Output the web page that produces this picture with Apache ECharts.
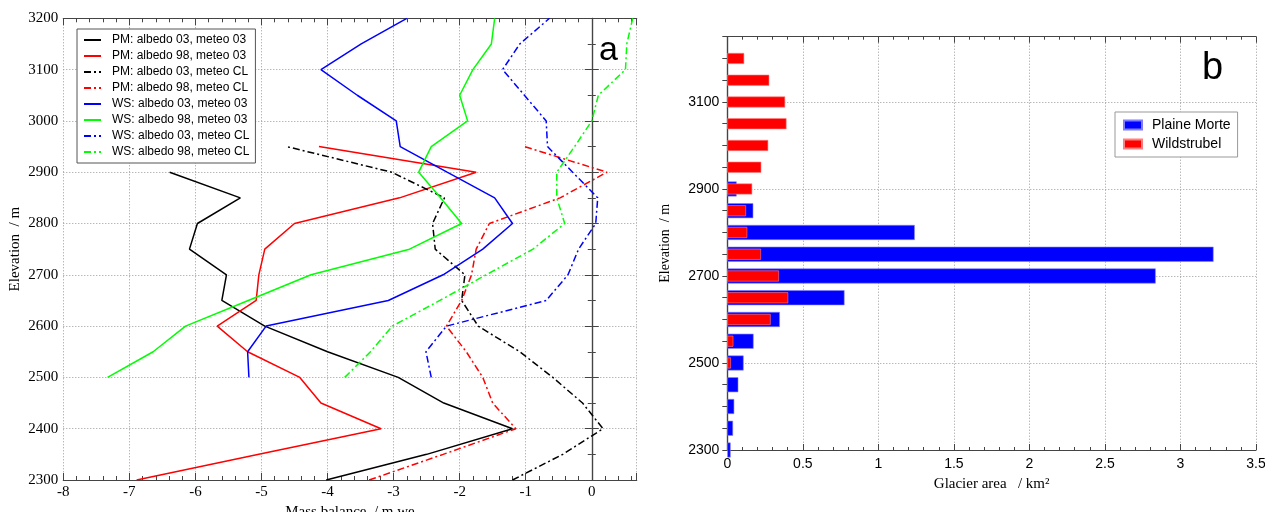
<!DOCTYPE html>
<html><head><meta charset="utf-8">
<script src="https://cdn.jsdelivr.net/npm/echarts@6/dist/echarts.min.js"></script>
<style>html,body{margin:0;padding:0;background:#fff}#c{width:1265px;height:512px}</style>
</head><body><div id="c"></div><script>
// ---- Panel a: mass balance profiles (m w.e.) ----
const elevPM = [2300,2350,2400,2450,2500,2550,2600,2650,2700,2750,2800,2850,2900,2950];
const elevWS = [2500,2550,2600,2650,2700,2750,2800,2850,2900,2950,3000,3050,3100,3150,3200];
const pmA03M03 = [-4.02,-2.5,-1.2,-2.24,-2.93,-4.0,-4.95,-5.6,-5.53,-6.09,-5.97,-5.32,-6.39];
const pmA98M03 = [-6.89,-5.04,-3.19,-4.1,-4.42,-5.21,-5.67,-5.08,-5.04,-4.95,-4.5,-2.91,-1.75,-4.13];
const pmA03MCL = [-1.2,-0.44,0.17,-0.14,-0.59,-1.09,-1.72,-1.97,-1.92,-2.37,-2.41,-2.23,-3.03,-4.62];
const pmA98MCL = [-3.37,-2.25,-1.15,-1.5,-1.65,-1.9,-2.2,-1.97,-1.82,-1.75,-1.55,-0.48,0.23,-1.02];
const wsA03M03 = [-5.19,-5.21,-4.93,-3.08,-2.25,-1.65,-1.2,-1.47,-2.19,-2.9,-2.96,-3.55,-4.1,-3.49,-2.8];
const wsA98M03 = [-7.33,-6.64,-6.15,-5.2,-4.25,-2.76,-1.97,-2.29,-2.62,-2.43,-1.88,-2.0,-1.8,-1.52,-1.47];
const wsA03MCL = [-2.43,-2.51,-2.2,-0.69,-0.36,-0.2,0.06,0.09,-0.29,-0.67,-0.69,-1.02,-1.35,-1.09,-0.64];
const wsA98MCL = [-3.74,-3.35,-3.02,-2.3,-1.6,-0.89,-0.41,-0.53,-0.53,-0.26,0.0,0.1,0.51,0.53,0.62];
const profileNames = ['PM: albedo 03, meteo 03','PM: albedo 98, meteo 03','PM: albedo 03, meteo CL','PM: albedo 98, meteo CL',
  'WS: albedo 03, meteo 03','WS: albedo 98, meteo 03','WS: albedo 03, meteo CL','WS: albedo 98, meteo CL'];

// ---- Panel b: glacier area per elevation band (km2) ----
const elevBands = [2300,2350,2400,2450,2500,2550,2600,2650,2700,2750,2800,2850,2900,2950,3000,3050,3100,3150,3200,3250];
const elevPlaineMorte = [2300,2350,2400,2450,2500,2550,2600,2650,2700,2750,2800,2850,2900];
const areaPlaineMorte = [0.022,0.038,0.046,0.073,0.108,0.174,0.348,0.776,2.836,3.219,1.241,0.172,0.062];
const elevWildstrubel = [2500,2550,2600,2650,2700,2750,2800,2850,2900,2950,3000,3050,3100,3150,3200];
const areaWildstrubel = [0.024,0.04,0.287,0.403,0.342,0.223,0.132,0.124,0.165,0.225,0.271,0.392,0.383,0.278,0.112];

const dashDot = [7,3,2,3];
function pairs(vals, elev){ return vals.map((v,i)=>[v, elev[i]]); }
function onBands(vals, elev){ return elevBands.map(b=>{ const i = elev.indexOf(b); return i<0 ? '-' : vals[i]; }); }
const profiles = [
  {d: pairs(pmA03M03, elevPM), c:'#000000', t:'solid'},
  {d: pairs(pmA98M03, elevPM), c:'#ff0000', t:'solid'},
  {d: pairs(pmA03MCL, elevPM), c:'#000000', t:dashDot},
  {d: pairs(pmA98MCL, elevPM), c:'#ff0000', t:dashDot},
  {d: pairs(wsA03M03, elevWS), c:'#0000ff', t:'solid'},
  {d: pairs(wsA98M03, elevWS), c:'#00ff00', t:'solid'},
  {d: pairs(wsA03MCL, elevWS), c:'#0000ff', t:dashDot},
  {d: pairs(wsA98MCL, elevWS), c:'#00ff00', t:dashDot}
];

const serif = 'Liberation Serif';
const sans = 'Liberation Sans';
const axisCol = '#444';
const gridLine = {show:true, lineStyle:{color:'#999', type:[1,2], width:1}};
const plain = v => String(v);

const lineSeries = profiles.map((p,i)=>({
  type:'line', name: profileNames[i], xAxisIndex:0, yAxisIndex:0,
  data: p.d, showSymbol:false, symbol:'none', z:3,
  lineStyle:{color:p.c, width:1.5, type:p.t}, itemStyle:{color:p.c}
}));

const option = {
  animation:false,
  backgroundColor:'#fff',
  title:[
    {text:'a', left:594, top:29, textStyle:{fontFamily:sans, fontSize:34, fontWeight:'normal', color:'#000'}},
    {text:'b', left:1197, top:45, textStyle:{fontFamily:sans, fontSize:38, fontWeight:'normal', color:'#000'}}
  ],
  grid:[
    {left:63.3, right:628.3, top:18.3, bottom:32, outerBoundsMode:'none', containLabel:false},
    {left:727.3, right:9, top:36.7, bottom:62, outerBoundsMode:'none', containLabel:false}
  ],
  legend:[
    {data:profileNames, orient:'vertical', left:77, top:29, padding:[5,6,5,6], itemGap:4,
     itemWidth:17, itemHeight:12, borderColor:'#555', borderWidth:1, backgroundColor:'#fff',
     itemStyle:{opacity:0},
     textStyle:{fontFamily:sans, fontSize:12, color:'#000', padding:[0,0,0,6]}, z:10},
    {data:['Plaine Morte','Wildstrubel'], orient:'vertical', left:1115, top:112, padding:[6,7,6,8], itemGap:5,
     itemWidth:18, itemHeight:9, icon:'rect', borderColor:'#999', borderWidth:1, backgroundColor:'#fff',
     textStyle:{fontFamily:sans, fontSize:14, color:'#000', padding:[0,0,0,5]}, z:10}
  ],
  xAxis:[
    {gridIndex:0, type:'value', position:'bottom', min:-8, max:0.68, interval:1,
     name:'Mass balance  / m we', nameLocation:'middle', nameGap:23,
     nameTextStyle:{fontFamily:serif, fontSize:15, color:'#000'},
     axisLine:{show:true, lineStyle:{color:axisCol, width:1.2}},
     axisTick:{show:true, inside:true, length:7, lineStyle:{color:axisCol}},
     minorTick:{show:true, splitNumber:5, length:4, lineStyle:{color:axisCol}},
     axisLabel:{fontFamily:serif, fontSize:15, color:'#000', margin:5, showMaxLabel:false, formatter:plain},
     splitLine:gridLine},
    {gridIndex:0, type:'value', position:'top', min:-8, max:0.68, interval:1,
     axisLine:{show:true, lineStyle:{color:axisCol, width:1.2}},
     axisTick:{show:true, inside:true, length:7, lineStyle:{color:axisCol}},
     minorTick:{show:true, splitNumber:5, length:4, lineStyle:{color:axisCol}},
     axisLabel:{show:false}, splitLine:{show:false}},
    {gridIndex:1, type:'value', position:'bottom', min:0, max:3.5, interval:0.5,
     name:'Glacier area   / km²', nameLocation:'middle', nameGap:27,
     nameTextStyle:{fontFamily:serif, fontSize:15, color:'#000'},
     axisLine:{show:true, lineStyle:{color:axisCol, width:1.2}},
     axisTick:{show:true, inside:true, length:6, lineStyle:{color:axisCol}},
     minorTick:{show:true, splitNumber:5, length:3, lineStyle:{color:axisCol}},
     axisLabel:{fontFamily:sans, fontSize:14, color:'#000', margin:7, formatter:plain},
     splitLine:gridLine},
    {gridIndex:1, type:'value', position:'top', min:0, max:3.5, interval:0.5,
     axisLine:{show:true, lineStyle:{color:axisCol, width:1.2}},
     axisTick:{show:true, inside:true, length:6, lineStyle:{color:axisCol}},
     minorTick:{show:true, splitNumber:5, length:3, lineStyle:{color:axisCol}},
     axisLabel:{show:false}, splitLine:{show:false}}
  ],
  yAxis:[
    {gridIndex:0, type:'value', position:'left', min:2300, max:3200, interval:100,
     name:'Elevation  / m', nameLocation:'middle', nameGap:41,
     nameTextStyle:{fontFamily:serif, fontSize:15, color:'#000'},
     axisLine:{show:true, lineStyle:{color:axisCol, width:1.2}},
     axisTick:{show:true, inside:true, length:7, lineStyle:{color:axisCol}},
     minorTick:{show:true, splitNumber:2, length:4, lineStyle:{color:axisCol}},
     axisLabel:{fontFamily:serif, fontSize:15, color:'#000', margin:5, formatter:plain},
     splitLine:gridLine},
    {gridIndex:0, type:'value', position:'right', min:2300, max:3200, interval:100,
     axisLine:{show:true, lineStyle:{color:axisCol, width:1.2}},
     axisTick:{show:true, inside:true, length:7, lineStyle:{color:axisCol}},
     minorTick:{show:true, splitNumber:2, length:4, lineStyle:{color:axisCol}},
     axisLabel:{show:false}, splitLine:{show:false}},
    {gridIndex:1, type:'category', position:'left', data:elevBands, boundaryGap:false,
     name:'Elevation  / m', nameLocation:'middle', nameGap:55,
     nameTextStyle:{fontFamily:serif, fontSize:14, color:'#000'},
     axisLine:{show:true, lineStyle:{color:axisCol, width:1.2}},
     axisTick:{show:true, inside:true, length:5, interval:0, lineStyle:{color:axisCol}},
     axisLabel:{fontFamily:sans, fontSize:14, color:'#000', margin:8, interval:3},
     splitLine:{show:true, interval:3, lineStyle:{color:'#999', type:[1,2], width:1}}},
    {gridIndex:1, type:'category', position:'right', data:elevBands, boundaryGap:false,
     axisLine:{show:true, lineStyle:{color:axisCol, width:1.2}},
     axisTick:{show:true, inside:true, length:5, interval:0, lineStyle:{color:axisCol}},
     axisLabel:{show:false}, splitLine:{show:false}}
  ],
  series: lineSeries.concat([
    {type:'bar', name:'Plaine Morte', xAxisIndex:2, yAxisIndex:2, barWidth:15, z:10,
     data: onBands(areaPlaineMorte, elevPlaineMorte),
     itemStyle:{color:'#0000ff', borderColor:'#7f7fff', borderWidth:0.6}},
    {type:'bar', name:'Wildstrubel', xAxisIndex:2, yAxisIndex:3, barWidth:11, z:11,
     data: onBands(areaWildstrubel, elevWildstrubel),
     itemStyle:{color:'#ff0000', borderColor:'#ff8080', borderWidth:0.6}}
  ])
};
const chart = echarts.init(document.getElementById('c'), null, {renderer:'canvas'});
chart.setOption(option);
</script></body></html>
